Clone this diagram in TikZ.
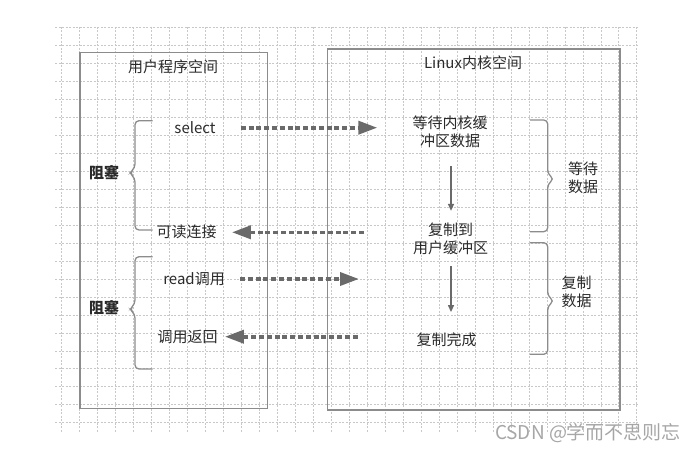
\documentclass[tikz,border=0pt]{standalone}
\usepackage{fontspec}
\setmainfont{Noto Sans CJK SC}
\usepackage{xcolor}
\usetikzlibrary{arrows.meta}
\definecolor{ink}{HTML}{2A2A2A}
\definecolor{framegray}{HTML}{8C8C8C}
\definecolor{arrowgray}{HTML}{6A6A6A}
\definecolor{gridgray}{HTML}{C8C8C8}

\begin{document}
\begin{tikzpicture}[x=1pt,y=-1pt,
  gridline/.style={gridgray,line width=0.6pt,dash pattern=on 2pt off 1.5pt},
  spacebox/.style={framegray,line width=1.4pt},
  lbl/.style={font=\fontsize{15}{18}\selectfont,text=ink,inner sep=0pt,align=center},
  dasharrow/.style={arrowgray,line width=3.6pt,dash pattern=on 5pt off 2.8pt,
    -{Triangle[length=19pt,width=13pt]}},
  downarrow/.style={arrowgray,line width=1.3pt,-{Triangle[length=7pt,width=6pt]}},
  brace/.style={framegray,line width=1.3pt,rounded corners=4pt}]
\useasboundingbox (0,0) rectangle (699,452);
% grid
\foreach \i in {0,...,32}{\draw[gridline] (61.7+17.97*\i,27) -- (61.7+17.97*\i,432);}
\foreach \j in {0,...,22}{\draw[gridline] (55,27.7+17.95*\j) -- (638,27.7+17.95*\j);}
% the two spaces
\draw[spacebox] (80,52.3) rectangle (267.7,408.3);
\draw[spacebox] (327.7,49) rectangle (620,410);
\node[lbl] (usertitle) at (173,66.7) {用户程序空间};
\node[lbl] (kerntitle) at (473,62.3) {Linux内核空间};
% user side
\node[lbl] (sel) at (195,127.7) {select};
\node[lbl] (rdy) at (186.7,232.3) {可读连接};
\node[lbl] (rcall) at (194,279) {read调用};
\node[lbl] (ret) at (187.7,336.7) {调用返回};
% kernel side
\node[lbl] (wait) at (450,132) {等待内核缓\\冲区数据};
\node[lbl] (copy) at (450.7,239) {复制到\\用户缓冲区};
\node[lbl] (done) at (446.7,339.3) {复制完成};
% dashed calls
\draw[dasharrow,shorten <=25pt,shorten >=35pt] (sel.east) -- (sel.east -| wait.west);
\draw[dasharrow,shorten <=49pt,shorten >=15pt] (rdy.east -| copy.west) -- (rdy.east);
\draw[dasharrow,shorten <=15pt,shorten >=54pt] (rcall.east) -- (rcall.east -| copy.west);
\draw[dasharrow,shorten <=59pt,shorten >=7pt] (ret.east -| done.west) -- (ret.east);
\draw[downarrow,shorten <=18pt,shorten >=12pt] (wait.south -| 451,0) -- (copy.north -| 451,0);
\draw[downarrow,shorten <=11pt,shorten >=20pt] (copy.south -| 451,0) -- (done.north -| 451,0);
% braces
\draw[brace] (152.7,120.7) -- (135,120.7) -- (135,168) -- (129.5,173) -- (135,178) -- (135,230) -- (152.7,230);
\draw[brace] (152.7,256.7) -- (135,256.7) -- (135,304) -- (129.5,309.3) -- (135,314) -- (135,369) -- (152.7,369);
\draw[brace] (530,120) -- (547.7,120) -- (547.7,174) -- (554,179) -- (547.7,184) -- (547.7,231.7) -- (530,231.7);
\draw[brace] (530,242.7) -- (547.7,242.7) -- (547.7,296) -- (554,301) -- (547.7,306) -- (547.7,354.3) -- (530,354.3);
\node[lbl,font=\fontsize{15}{18}\selectfont\bfseries] (blk1) at (104,173) {阻塞};
\node[lbl,font=\fontsize{15}{18}\selectfont\bfseries] (blk2) at (104,308) {阻塞};
\node[lbl] (waitdata) at (583,178) {等待\\数据};
\node[lbl] (copydata) at (576.7,292) {复制\\数据};
% watermark
\node[lbl,font=\fontsize{19}{22}\selectfont,text=gray!70] (mark) at (588,433) {CSDN @学而不思则忘};
\end{tikzpicture}
\end{document}
